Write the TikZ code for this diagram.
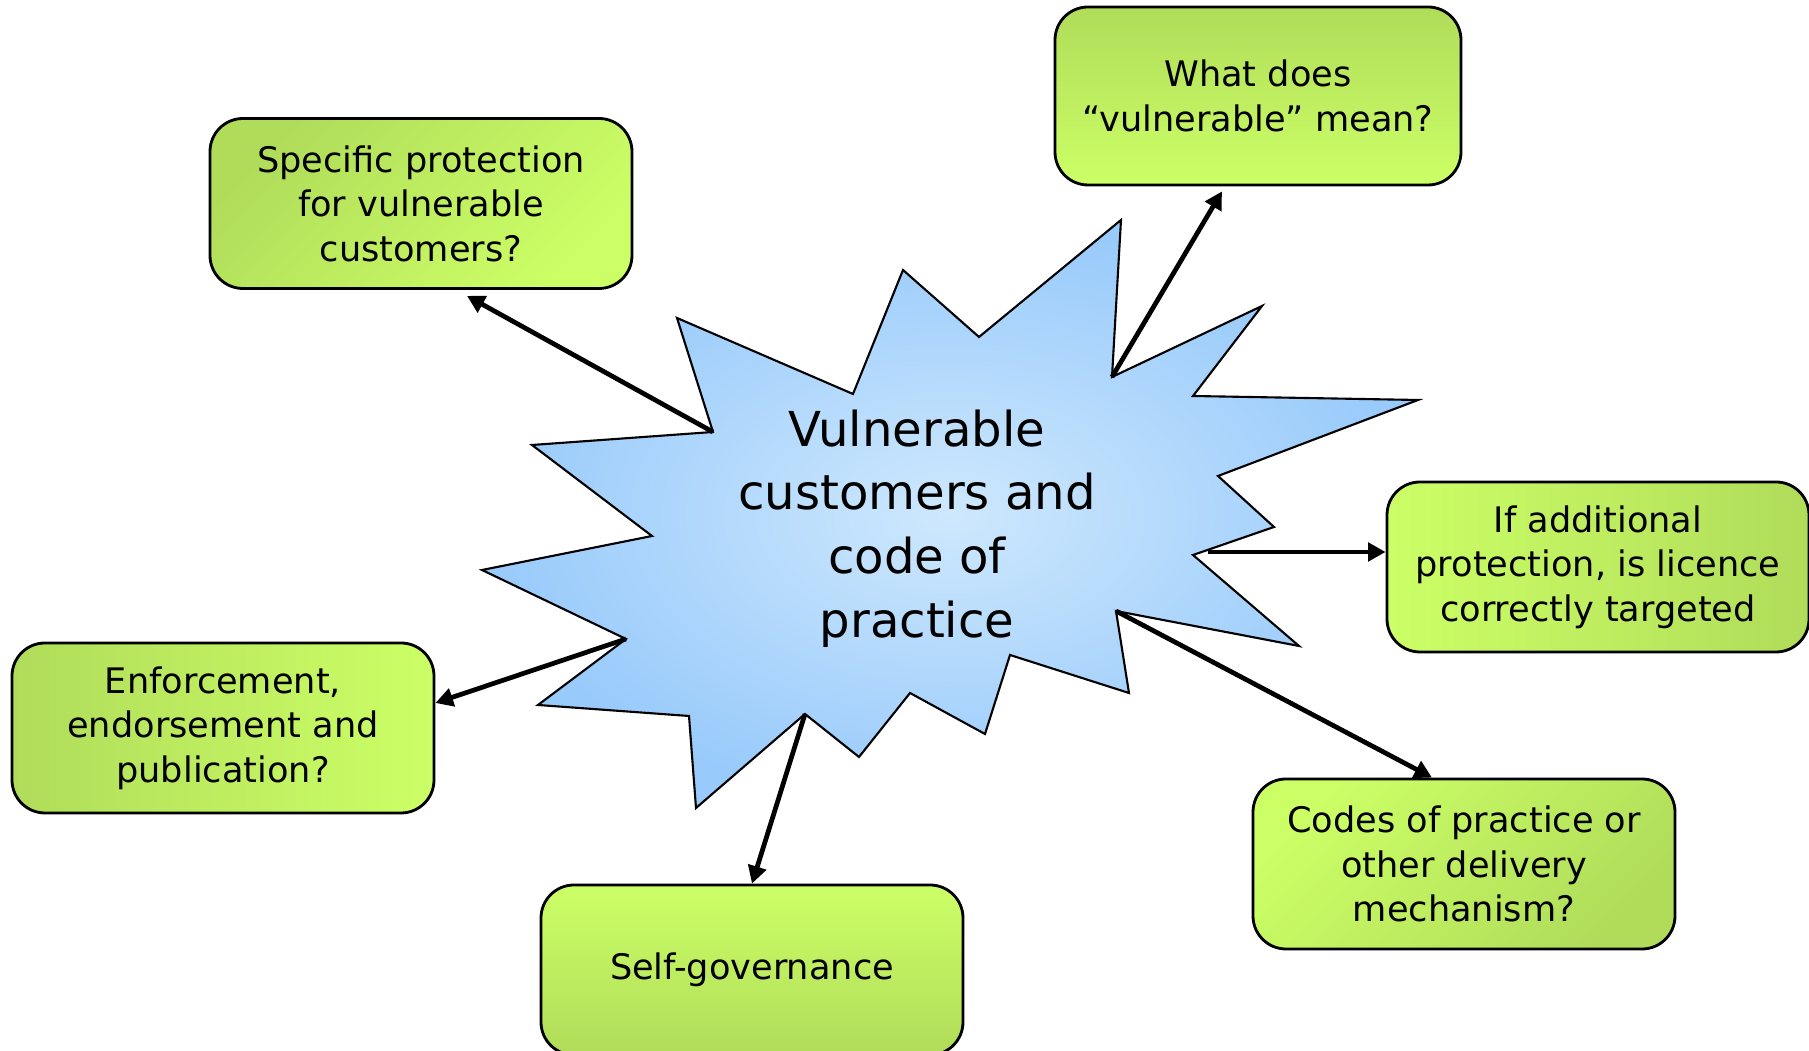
\documentclass[tikz,border=0pt]{standalone}
\usepackage{fontspec}
\setmainfont{DejaVu Sans}
\usepackage{xcolor}
\usepackage{tikz}
\usetikzlibrary{positioning, arrows.meta}
\definecolor{qlight}{RGB}{204,255,102}
\definecolor{qdark}{RGB}{176,220,90}
\definecolor{starin}{RGB}{206,232,253}
\definecolor{starout}{RGB}{152,202,251}
\tikzstyle{qbox} = [rectangle, rounded corners=0.33cm, minimum width=4.22cm, minimum height=1.7cm, inner sep=0pt, text centered, align=center, draw=black, line width=0.8pt, top color=qdark, bottom color=qlight, font=\fontsize{10}{12.66}\selectfont]
\tikzstyle{star} = [draw=black, line width=0.6pt, inner color=starin, outer color=starout]
\tikzstyle{arrow} = [line width=1.35pt,-{Triangle[length=5pt,width=5.2pt]}]
\tikzstyle{every node}=[font=\normalsize]

\begin{document}
\begin{tikzpicture}[node distance=2cm,]
			\useasboundingbox (0,0) rectangle (18.09,10.51);
			% the burst
			\draw[star] (11.21,8.31) coordinate (o1) -- (11.12,6.74) coordinate (i1)
				-- (12.62,7.45) -- (11.93,6.55) -- (14.18,6.51) -- (12.18,5.75)
				-- (12.74,5.24) -- (11.93,4.96) coordinate (i4) -- (12.99,4.05)
				-- (11.16,4.40) coordinate (i5) -- (11.29,3.58) -- (10.10,3.96)
				-- (9.85,3.17) -- (9.10,3.58) -- (8.59,2.94) -- (8.05,3.37) coordinate (i8)
				-- (6.96,2.43) -- (6.89,3.35) -- (5.38,3.46) -- (6.26,4.12) coordinate (i10)
				-- (4.82,4.81) -- (6.52,5.15) -- (5.32,6.06) -- (7.13,6.19) coordinate (i12)
				-- (6.77,7.33) -- (8.53,6.57) -- (9.03,7.81) -- (9.79,7.14) -- cycle;
			\node (hub) at (9.17,5.225) [align=center, font=\fontsize{13.7}{18.1}\selectfont] {Vulnerable\\customers and\\code of\\practice};
			
			\node (spec) [qbox, left of=hub, xshift=-2.96cm, yshift=3.25cm, shading angle=45] {Specific protection\\for vulnerable\\customers?};
			\node (what) [qbox, above of=hub, xshift=3.41cm, yshift=2.325cm, minimum width=4.06cm, minimum height=1.78cm] {What does\\``vulnerable'' mean?};
			\node (add) [qbox, right of=hub, xshift=4.81cm, yshift=-0.385cm, shading angle=-90] {If additional\\protection, is licence\\correctly targeted};
			\node (codes) [qbox, below of=hub, xshift=5.47cm, yshift=-1.355cm, shading angle=-135] {Codes of practice or\\other delivery\\mechanism?};
			\node (self) [qbox, below of=hub, xshift=-1.65cm, yshift=-2.415cm, shading angle=180] {Self-governance};
			\node (enf) [qbox, left of=hub, xshift=-4.94cm, yshift=-1.995cm, shading angle=90] {Enforcement,\\endorsement and\\publication?};
			
			% links
			\draw [arrow](i12) -- ([xshift=0.46cm,yshift=-0.06cm]spec.south);
			\draw [arrow](i1) -- ([xshift=-0.36cm,yshift=-0.05cm]what.south);
			\draw [arrow]([xshift=0.15cm,yshift=0.03cm]i4) -- ([yshift=0.15cm]add.west);
			\draw [arrow](i5) -- ([xshift=-0.32cm]codes.north);
			\draw [arrow](i8) -- (self.north);
			\draw [arrow](i10) -- ([yshift=0.25cm]enf.east);
			
		\end{tikzpicture}
\end{document}
